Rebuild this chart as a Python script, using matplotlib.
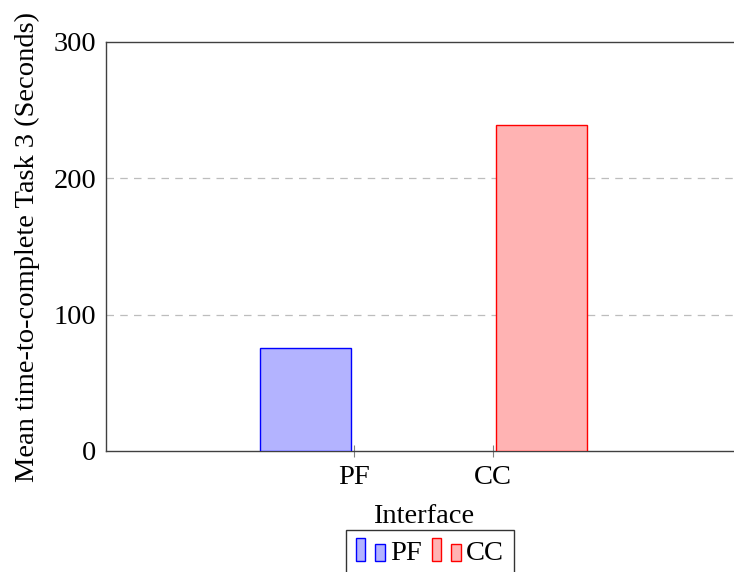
import numpy as np
import matplotlib
matplotlib.use('Agg')
import matplotlib.pyplot as plt
import matplotlib.patches as patches
from matplotlib.legend_handler import HandlerBase

plt.rcParams['font.family'] = ['Liberation Serif', 'DejaVu Serif']
FS = 20.5

interfaces = ['PF', 'CC']
mean_times = [75.5, 239]
fills = ['#b3b3ff', '#ffb3b3']
edges = ['#0000ff', '#ff0000']


class TwoBarHandler(HandlerBase):
    # pgfplots-style bar legend image: two little bars
    def create_artists(self, legend, orig, xd, yd, width, height, fontsize, trans):
        fc = orig.get_facecolor()
        ec = orig.get_edgecolor()
        w = width * 0.3
        r1 = patches.Rectangle((xd, yd - height * 0.05), w, height * 1.15,
                               facecolor=fc, edgecolor=ec, lw=1.0, transform=trans)
        r2 = patches.Rectangle((xd + width * 0.62, yd - height * 0.05), w, height * 0.85,
                               facecolor=fc, edgecolor=ec, lw=1.0, transform=trans)
        return [r1, r2]


fig = plt.figure(figsize=(7.34, 5.72), dpi=100)
ax = fig.add_axes([106 / 734, 1 - 451 / 572, (741 - 106) / 734, (451 - 42) / 572])

x = np.arange(len(interfaces))
offs = [-0.355, 0.355]
handles = []
for i in range(len(interfaces)):
    b = ax.bar(x[i] + offs[i], mean_times[i], width=0.66, color=fills[i],
               edgecolor=edges[i], linewidth=1.0, label=interfaces[i], zorder=3)
    handles.append(b[0])

ax.set_xlim(-1.8, 2.8)
ax.set_ylim(0, 300)
ax.set_xticks(x)
ax.set_xticklabels(interfaces)
ax.set_yticks([0, 100, 200, 300])
for v in [100, 200]:
    ax.axhline(v, color='#bdbdbd', lw=0.9, ls=(0, (6, 5)), zorder=1)

for s in ax.spines.values():
    s.set_color('#404040')
    s.set_linewidth(1.0)
ax.tick_params(axis='x', direction='inout', length=8, color='#808080',
               labelsize=FS, pad=6)
ax.tick_params(axis='y', direction='in', length=0, labelsize=FS, pad=7)

ax.set_xlabel('Interface', fontsize=FS, labelpad=10)
ax.set_ylabel('Mean time-to-complete Task 3 (Seconds)', fontsize=FS, labelpad=10)

leg = ax.legend(handles=handles, labels=interfaces, handler_map={h: TwoBarHandler() for h in handles},
                loc='upper left', bbox_to_anchor=(346 / 734, 1 - 530 / 572),
                bbox_transform=fig.transFigure, ncol=2, fontsize=FS, frameon=True,
                fancybox=False, edgecolor='black', handlelength=1.1, handletextpad=0.1,
                columnspacing=0.35, borderpad=0.35, borderaxespad=0)
leg.get_frame().set_linewidth(1.0)

fig.savefig('out.png', dpi=100)
